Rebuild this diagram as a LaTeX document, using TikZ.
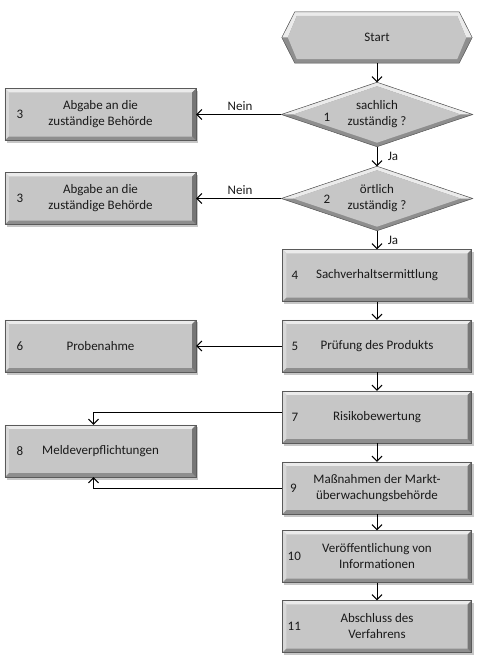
\documentclass[tikz,border=0pt]{standalone}
\usepackage{fontspec}
\setmainfont{Carlito}
\usetikzlibrary{arrows.meta,backgrounds}
\definecolor{bvface}{HTML}{C6C6C6}
\definecolor{bvtop}{HTML}{EBEBEB}
\definecolor{bvleft}{HTML}{D8D8D8}
\definecolor{bvbot}{HTML}{8E8E8E}
\definecolor{bvright}{HTML}{767676}
\definecolor{bvline}{HTML}{5A5A5A}
\definecolor{txt}{HTML}{1A1A1A}
\def\bvw{4pt}
\newcommand\bevrect[1]{%
 \fill[black,opacity=.22] ([shift={(2pt,-2.5pt)}]#1.north west) rectangle ([shift={(2pt,-2.5pt)}]#1.south east);
 \fill[bvface] (#1.north west) rectangle (#1.south east);
 \fill[bvtop] (#1.north west) -- (#1.north east) -- ([shift={(-\bvw,-\bvw)}]#1.north east) -- ([shift={(\bvw,-\bvw)}]#1.north west) -- cycle;
 \fill[bvleft] (#1.north west) -- ([shift={(\bvw,-\bvw)}]#1.north west) -- ([shift={(\bvw,\bvw)}]#1.south west) -- (#1.south west) -- cycle;
 \fill[bvbot] (#1.south west) -- ([shift={(\bvw,\bvw)}]#1.south west) -- ([shift={(-\bvw,\bvw)}]#1.south east) -- (#1.south east) -- cycle;
 \fill[bvright] (#1.south east) -- ([shift={(-\bvw,\bvw)}]#1.south east) -- ([shift={(-\bvw,-\bvw)}]#1.north east) -- (#1.north east) -- cycle;
 \draw[bvline,line width=.6pt] (#1.north west) rectangle (#1.south east);
}
\newcommand\bevdia[1]{%
 \fill[black,opacity=.22,shift={(2pt,-2.5pt)}] (#1.west) -- (#1.north) -- (#1.east) -- (#1.south) -- cycle;
 \fill[bvbot] (#1.west) -- (#1.north) -- (#1.east) -- (#1.south) -- cycle;
 \fill[bvtop] (#1.west) -- (#1.north) -- (#1.east) -- ([xshift=-12pt]#1.east) -- ([yshift=-4pt]#1.north) -- ([xshift=12pt]#1.west) -- cycle;
 \fill[bvface] ([xshift=12pt]#1.west) -- ([yshift=-4pt]#1.north) -- ([xshift=-12pt]#1.east) -- ([yshift=4pt]#1.south) -- cycle;
 \draw[bvline,line width=.5pt] (#1.west) -- (#1.north) -- (#1.east) -- (#1.south) -- cycle;
}
\newcommand\bevhex[1]{%
 \fill[black,opacity=.22,shift={(2pt,-2.5pt)}] (#1.west) -- ([xshift=13pt]#1.north west) -- ([xshift=-13pt]#1.north east) -- (#1.east) -- ([xshift=-13pt]#1.south east) -- ([xshift=13pt]#1.south west) -- cycle;
 \fill[bvbot] (#1.west) -- ([xshift=13pt]#1.north west) -- ([xshift=-13pt]#1.north east) -- (#1.east) -- ([xshift=-13pt]#1.south east) -- ([xshift=13pt]#1.south west) -- cycle;
 \fill[bvtop] (#1.west) -- ([xshift=13pt]#1.north west) -- ([xshift=-13pt]#1.north east) -- (#1.east) -- ([xshift=-6pt]#1.east) -- ([shift={(-15pt,-4pt)}]#1.north east) -- ([shift={(15pt,-4pt)}]#1.north west) -- ([xshift=6pt]#1.west) -- cycle;
 \fill[bvface] ([xshift=6pt]#1.west) -- ([shift={(15pt,-4pt)}]#1.north west) -- ([shift={(-15pt,-4pt)}]#1.north east) -- ([xshift=-6pt]#1.east) -- ([shift={(-15pt,4pt)}]#1.south east) -- ([shift={(15pt,4pt)}]#1.south west) -- cycle;
 \draw[bvline,line width=.5pt] (#1.west) -- ([xshift=13pt]#1.north west) -- ([xshift=-13pt]#1.north east) -- (#1.east) -- ([xshift=-13pt]#1.south east) -- ([xshift=13pt]#1.south west) -- cycle;
}
\tikzset{
 rbox/.style={rectangle,minimum width=189pt,minimum height=52pt,inner sep=0pt,align=center,text=txt,font=\fontsize{13}{16}\selectfont},
 lbox/.style={rbox,minimum width=191pt},
 dia/.style={rbox,minimum width=191pt,minimum height=64pt},
 hexa/.style={rbox,minimum width=190pt,minimum height=51pt},
 num/.style={inner sep=0pt,text=txt,font=\fontsize{13}{16}\selectfont},
 lbl/.style={inner sep=0pt,text=txt,font=\fontsize{13}{16}\selectfont},
 arr/.style={line width=1pt,-{Straight Barb[length=5pt,width=10pt,line width=1pt]}},
}
\begin{document}
\begin{tikzpicture}[x=1pt,y=-1pt]
\useasboundingbox (0,0) rectangle (483,663);
% nodes
\node[hexa] (start) at (377,37.5) {Start};
\node[dia] (d1) at (377,114.5) {sachlich\\zuständig ?};
\node[dia] (d2) at (377,198.5) {örtlich\\zuständig ?};
\node[rbox] (b4) at (377,275.5) {Sachverhaltsermittlung};
\node[rbox] (b5) at (377,346) {Prüfung des Produkts};
\node[rbox] (b7) at (377,417) {Risikobewertung};
\node[rbox] (b9) at (377,488) {Maßnahmen der Markt-\\überwachungsbehörde};
\node[rbox] (b10) at (377,556.5) {Veröffentlichung von\\Informationen};
\node[rbox] (b11) at (377,626.5) {Abschluss des\\Verfahrens};
\node[lbox] (b3a) at (100.5,114.5) {Abgabe an die\\zuständige Behörde};
\node[lbox] (b3b) at (100.5,198.5) {Abgabe an die\\zuständige Behörde};
\node[lbox] (b6) at (100.5,346) {Probenahme};
\node[lbox] (b8) at (100.5,451) {Meldeverpflichtungen};
% numbers
\node[num] (n1) at (327,117) {1};
\node[num] (n2) at (327,199) {2};
\node[num] (n4) at ([xshift=12.5pt]b4.west) {4};
\node[num] (n5) at ([xshift=12.5pt]b5.west) {5};
\node[num] (n7) at ([xshift=12.5pt]b7.west) {7};
\node[num] (n9) at ([xshift=11pt]b9.west) {9};
\node[num] (n10) at ([xshift=12pt]b10.west) {10};
\node[num] (n11) at ([xshift=12pt]b11.west) {11};
\node[num] (n3a) at ([xshift=15pt]b3a.west) {3};
\node[num] (n3b) at ([xshift=15pt]b3b.west) {3};
\node[num] (n6) at ([xshift=15pt]b6.west) {6};
\node[num] (n8) at ([xshift=15pt]b8.west) {8};
% labels
\node[lbl] (nein1) at (240,106) {Nein};
\node[lbl] (nein2) at (240,190) {Nein};
\node[lbl] (ja1) at (393,156.5) {Ja};
\node[lbl] (ja2) at (393,240.5) {Ja};
% backgrounds
\begin{scope}[on background layer]
 \bevhex{start}
 \bevdia{d1}
 \bevdia{d2}
 \bevrect{b4}\bevrect{b5}\bevrect{b7}\bevrect{b9}\bevrect{b10}\bevrect{b11}
 \bevrect{b3a}\bevrect{b3b}\bevrect{b6}\bevrect{b8}
\end{scope}
% connectors
\draw[arr] (start.south) -- (d1.north);
\draw[arr] (d1.south) -- (d2.north);
\draw[arr] (d2.south) -- (b4.north);
\draw[arr] (b4.south) -- (b5.north);
\draw[arr] (b5.south) -- (b7.north);
\draw[arr] (b7.south) -- (b9.north);
\draw[arr] (b9.south) -- (b10.north);
\draw[arr] (b10.south) -- (b11.north);
\draw[arr] (d1.west) -- (b3a.east);
\draw[arr] (d2.west) -- (b3b.east);
\draw[arr] (b5.west) -- (b6.east);
\coordinate (c7) at ([yshift=5pt]b7.west);
\coordinate (t8) at ([xshift=-7pt]b8.north);
\coordinate (u8) at ([xshift=-7pt]b8.south);
\draw[arr] (c7) -| (t8);
\draw[arr] (b9.west) -| (u8);
\end{tikzpicture}
\end{document}
